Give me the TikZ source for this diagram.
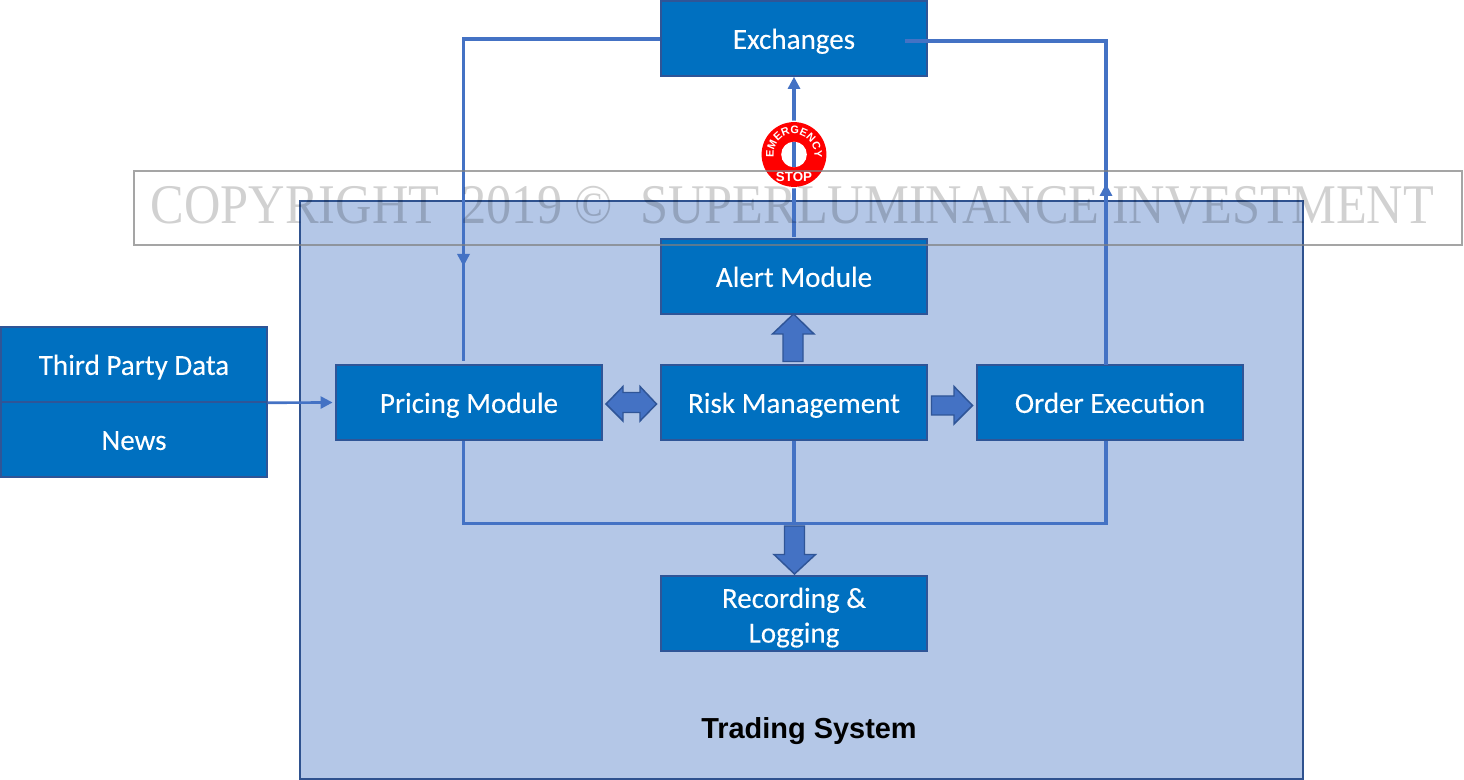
\documentclass[tikz,border=0pt]{standalone}
\usepackage{fontspec}
\setmainfont{Carlito}[FakeBold=0.12]
\newfontfamily\arialf{Liberation Sans}
\newfontfamily\wmfont{Liberation Serif}
\usetikzlibrary{arrows.meta,decorations.text,calc}
\definecolor{boxfill}{HTML}{0070C0}
\definecolor{boxline}{HTML}{2F5597}
\definecolor{conn}{HTML}{4472C4}
\definecolor{sysfill}{HTML}{B4C7E7}
\definecolor{sysline}{HTML}{2F528F}
\definecolor{wmline}{HTML}{7F7F7F}
\tikzset{
  modbox/.style={draw=boxline,fill=boxfill,line width=1.1pt,minimum width=199.5pt,minimum height=56.25pt,
    inner sep=0pt,text=white,align=center,font=\fontsize{21.8}{26}\selectfont,execute at begin node={\rule[-5.2pt]{0pt}{26pt}}},
  connector/.style={draw=conn,line width=2.7pt},
  thinconn/.style={draw=conn,line width=2pt},
  headtip/.style={fill=conn,draw=none},
  blockarrow/.style={draw=boxline,fill=conn,line width=1.1pt,line join=miter},
}
\begin{document}
\begin{tikzpicture}[x=0.75pt,y=-0.75pt]
\useasboundingbox (0,0) rectangle (1464,780);
% system frame
\node[draw=sysline,fill=sysfill,line width=1.5pt,minimum width=752.25pt,minimum height=433.5pt,inner sep=0pt] (sys) at (801.5,490) {};
\node[font=\arialf\bfseries\fontsize{21.7}{26}\selectfont,text=black] (systext) at (809,731) {Trading System};
% modules
\node[modbox] (exch) at (794,38.5) {Exchanges};
\node[modbox] (alert) at (794,276.5) {Alert Module};
\node[modbox] (price) at (469,402.5) {Pricing Module};
\node[modbox] (risk) at (794,402.5) {Risk Management};
\node[modbox] (order) at (1110,402.5) {Order Execution};
\node[modbox] (rec) at (794,613.5) {\rule{0pt}{22.8pt}Recording \&\\\rule[-5.2pt]{0pt}{26pt}Logging};
\node[modbox] (third) at (134,364.5) {Third Party Data};
\node[modbox] (news) at (134,439.5) {News};
% connectors
\coordinate (pj) at (463.5,39);
\coordinate (pd) at (463.5,361);
\coordinate (ej) at (1106,41);
\coordinate (es) at (905,41);
\coordinate (ot) at (1106,365);
\coordinate (bl) at (463.5,523.5);
\coordinate (br) at (1106,523.5);
\coordinate (pb) at (463.5,441);
\coordinate (ob) at (1106,441);
\coordinate (rb) at (794,523);
\coordinate (at) at (794,237);
\draw[connector] (exch.west |- pj) -- (pj) -- (pd);
\fill[headtip] (457,254) -- (470,254) -- (463.5,266) -- cycle;
\draw[connector] (es) -- (ej) -- (ot);
\fill[headtip] (1099.5,196) -- (1112.5,196) -- (1106,184) -- cycle;
\draw[connector] (pb) -- (bl) -- (br) -- (ob);
\draw[connector] (risk.south) -- (rb);
\draw[thinconn,shorten >=2pt,-{Triangle[length=9pt,width=9pt]}] (third.south east) -- (price.west);
\draw[connector] (at) -- (794,88);
\fill[headtip] (787.5,89) -- (800.5,89) -- (794,77) -- cycle;
% block arrows
\draw[blockarrow] (793.5,314) -- (814,334) -- (803,334) -- (803,361.5) -- (783,361.5) -- (783,334) -- (772.5,334) -- cycle;
\draw[blockarrow] (606,404) -- (623,386.5) -- (623,392.5) -- (640,392.5) -- (640,386.5) -- (656.5,404) -- (640,421) -- (640,412.5) -- (623,412.5) -- (623,421) -- cycle;
\draw[blockarrow] (931.5,396) -- (954,396) -- (954,386.5) -- (972.5,405.5) -- (954,424) -- (954,415) -- (931.5,415) -- cycle;
\draw[blockarrow] (784.5,526) -- (804.5,526) -- (804.5,554.5) -- (815.5,554.5) -- (794.5,574) -- (774,554.5) -- (784.5,554.5) -- cycle;
% emergency stop badge
\coordinate (bc) at (794,154.5);
\fill[white] (bc) circle [radius=25.4pt];
\fill[red] (bc) circle [radius=24.3pt];
\fill[white] (bc) circle [radius=9.6pt];
\draw[connector] (794,142) -- (794,167);
\path[postaction={decorate},decoration={text along path,text align=center,
   text={|\arialf\bfseries\fontsize{8.2}{9}\selectfont\color{white}|EMERGENCY}}]
   (bc) ++(198:15.3pt) arc[start angle=198,end angle=-18,radius=15.3pt];
\node[font=\arialf\bfseries\fontsize{10}{11}\selectfont,text=white,inner sep=0pt] (stop) at (794,177) {STOP};
% watermark
\node[draw=wmline,draw opacity=.7,line width=1.5pt,minimum width=996pt,minimum height=55.5pt,inner sep=0pt] (wm) at (798,208) {};
\node[font=\wmfont\fontsize{42}{46}\selectfont,text=black,text opacity=.18,inner sep=0pt] (wmtext) at (792.5,205.5) {\scalebox{.9}[1]{COPYRIGHT\hspace{8pt} 2019 ©\hspace{12pt} SUPERLUMINANCE INVESTMENT}};
\end{tikzpicture}
\end{document}
